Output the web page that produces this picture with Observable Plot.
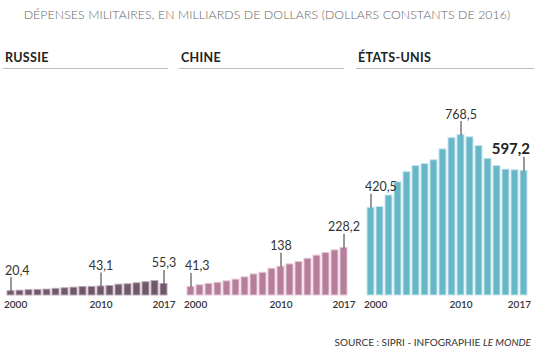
<!DOCTYPE html>
<html>
<head>
<meta charset="utf-8">
<script src="https://cdn.jsdelivr.net/npm/d3@7"></script>
<script src="https://cdn.jsdelivr.net/npm/@observablehq/plot@0.6"></script>
<style>
  html, body { margin: 0; padding: 0; background: #fff; }
  #wrap { position: relative; width: 534px; height: 352px; overflow: hidden; font-family: Lato, "Noto Sans", sans-serif; }
  #title { position: absolute; left: 0; width: 534px; top: 7px; text-align: center; font-size: 12.3px; font-weight: 300; color: #666; letter-spacing: 0.1px; white-space: nowrap; }
  .head { position: absolute; top: 50px; font-size: 12.5px; font-weight: 700; color: #222; border-bottom: 1px solid #bbb; padding: 0 0 3px 2px; letter-spacing: 0.3px; box-sizing: border-box; }
  .panel { position: absolute; top: 70px; }
  #source { position: absolute; right: 3px; top: 336px; font-size: 10px; color: #333; white-space: nowrap; }
  svg text { font-family: Lato, "Noto Sans", sans-serif; }
</style>
</head>
<body>
<div id="wrap">
  <div id="title">DÉPENSES MILITAIRES, EN MILLIARDS DE DOLLARS (DOLLARS CONSTANTS DE 2016)</div>
  <div class="head" style="left:3px;width:165px;">RUSSIE</div>
  <div class="head" style="left:179px;width:165px;">CHINE</div>
  <div class="head" style="left:356px;width:178px;">ÉTATS-UNIS</div>
  <div class="panel" id="p0" style="left:0px"></div>
  <div class="panel" id="p1" style="left:180px"></div>
  <div class="panel" id="p2" style="left:360px"></div>
  <div id="source">SOURCE : SIPRI - INFOGRAPHIE <i>LE MONDE</i></div>
</div>
<script>
const years = [2000,2001,2002,2003,2004,2005,2006,2007,2008,2009,2010,2011,2012,2013,2014,2015,2016,2017];
const russia = [20.4,23.0,25.6,26.9,28.3,31.9,34.6,37.6,40.9,41.3,43.1,45.6,51.9,53.8,58.4,63.7,69.2,55.3];
const china  = [41.3,49.0,56.0,61.0,68.0,76.0,87.0,101.0,109.0,128.0,138.0,149.0,161.0,176.0,191.0,204.0,216.0,228.2];
const usa    = [420.5,424.0,479.0,542.0,591.0,620.0,630.0,648.0,700.0,754.0,768.5,758.0,716.0,655.0,620.0,603.0,600.0,597.2];
const labelYears = [2000, 2010, 2017];
const tickYears = [2000, 2010, 2017];
const fmt = v => String(v).replace(".", ",");

const panels = [
  {id: "p0", values: russia, fill: "#72586c", edge: "#b9a8b4", width: 180, mr: 12.6, edgePanel: false},
  {id: "p1", values: china,  fill: "#b77e9b", edge: "#e6c8d8", width: 180, mr: 12.6, edgePanel: false},
  {id: "p2", values: usa,    fill: "#68b7c8", edge: "#c6e5ec", width: 174, mr: 6.6, edgePanel: true}
];

const leader = {draw(ctx) { ctx.moveTo(0, 0); ctx.lineTo(0, -14); }};

for (const p of panels) {
  const data = years.map((y, i) => ({year: y, value: p.values[i]}));
  const labels = data.filter(d => labelYears.includes(d.year));
  const first = labels.filter(d => d.year === 2000);
  const mid = labels.filter(d => d.year === 2010);
  const last = labels.filter(d => d.year === 2017);
  const ticks = tickYears.map(y => ({year: y, label: String(y)}));
  const tickStyle = {x: "year", y: () => 0, text: "label", dy: 5, lineAnchor: "top", fontSize: 10, fontWeight: 600, fill: "#333"};
  const chart = Plot.plot({
    width: p.width,
    height: 250,
    marginTop: 58,
    marginBottom: 25,
    marginLeft: 6,
    marginRight: p.mr,
    style: {overflow: "visible", background: "transparent"},
    x: {type: "band", domain: years, paddingInner: 0.264, paddingOuter: 0, axis: null},
    y: {domain: [0, 800], axis: null},
    marks: [
      Plot.barY(data, {x: "year", y: "value", fill: p.fill, stroke: p.edge, strokeWidth: 1}),
      Plot.dot(labels, {x: "year", y: "value", symbol: leader, fill: "none", stroke: "#333", strokeWidth: 1}),
      Plot.text(first, {x: "year", y: "value", text: d => fmt(d.value), textAnchor: "start", dx: -6, dy: -16.5, lineAnchor: "bottom", fontSize: 12.5, fill: "#333"}),
      Plot.text(mid, {x: "year", y: "value", text: d => fmt(d.value), dy: -16.5, lineAnchor: "bottom", fontSize: 12.5, fill: "#333"}),
      p.edgePanel
        ? Plot.text(last, {x: "year", y: "value", text: d => fmt(d.value), textAnchor: "end", dx: 6, dy: -17, lineAnchor: "bottom", fontSize: 15, fontWeight: "bold", fill: "#222"})
        : Plot.text(last, {x: "year", y: "value", text: d => fmt(d.value), dy: -16.5, lineAnchor: "bottom", fontSize: 12.5, fill: "#333"}),
      Plot.text(ticks.filter(t => t.year === 2000), {...tickStyle, textAnchor: "start", dx: -7}),
      Plot.text(ticks.filter(t => t.year === 2010), tickStyle),
      p.edgePanel
        ? Plot.text(ticks.filter(t => t.year === 2017), {...tickStyle, textAnchor: "end", dx: 7})
        : Plot.text(ticks.filter(t => t.year === 2017), tickStyle)
    ]
  });
  document.getElementById(p.id).appendChild(chart);
}
</script>
</body>
</html>
